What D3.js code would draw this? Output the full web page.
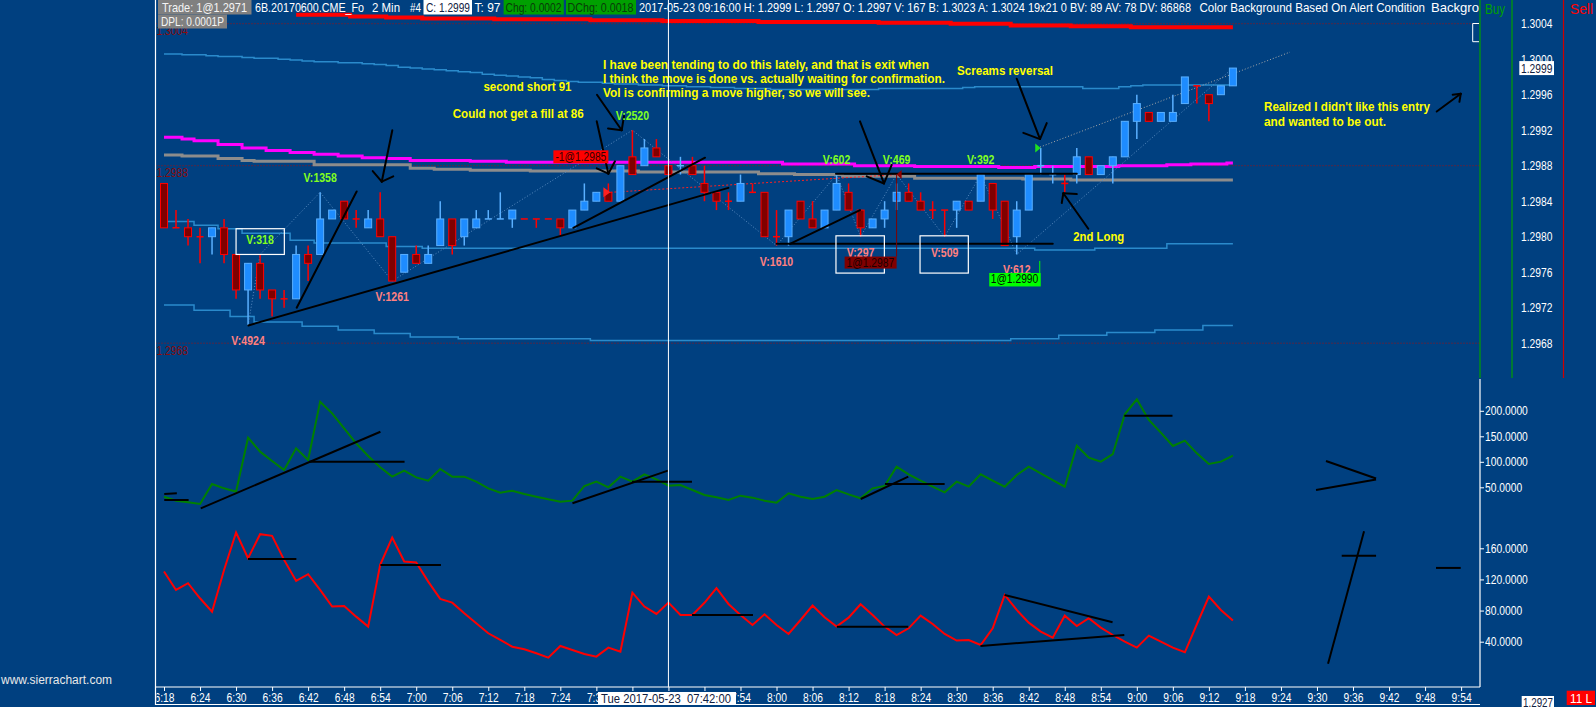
<!DOCTYPE html>
<html lang="en">
<head>
<meta charset="UTF-8">
<title>6B.20170600.CME_Fo 2 Min</title>
<style>
  html, body { margin: 0; padding: 0; background: #004080; overflow: hidden; }
  svg { display: block; font-family: "Liberation Sans Narrow", "Liberation Sans", Arial, sans-serif; }
</style>
</head>
<body>
<svg id="chart" width="1596" height="707"></svg>
<script src="https://cdn.jsdelivr.net/npm/d3@7/dist/d3.min.js"></script>
<script>
// 2 minute bars, 6:18 .. 9:16
const opens = [
  1.2986,1.2981,1.2981,1.2980,1.2980,1.2981,1.2978,1.2974,1.2977,1.2974,
  1.2973,1.2973,1.2978,1.2978,1.2982,1.2984,1.2982,1.2981,1.2982,1.2980,
  1.2976,1.2978,1.2977,1.2979,1.2982,1.2980,1.2981,1.2982,1.2982,1.2982,
  1.2982,1.2982,1.2982,1.2982,1.2981,1.2983,1.2984,1.2985,1.2984,1.2989,
  1.2988,1.2990,1.2988,1.2988,1.2988,1.2986,1.2985,1.2984,1.2984,1.2985,
  1.2985,1.2980,1.2980,1.2984,1.2982,1.2981,1.2983,1.2985,1.2983,1.2981,
  1.2982,1.2984,1.2985,1.2984,1.2983,1.2983,1.2983,1.2984,1.2984,1.2986,
  1.2984,1.2980,1.2983,1.2988,1.2987,1.2986,1.2987,1.2989,1.2987,1.2988,
  1.2989,1.2993,1.2994,1.2993,1.2993,1.2995,1.2997,1.2996,1.2996,1.2997
];
const highs = [
  1.2986,1.2983,1.2982,1.2981,1.2981,1.2982,1.2978,1.2977,1.2978,1.2974,
  1.2974,1.2979,1.2979,1.2985,1.2983,1.2984,1.2983,1.2983,1.2985,1.2980,
  1.2978,1.2979,1.2979,1.2984,1.2982,1.2982,1.2983,1.2983,1.2985,1.2983,
  1.2982,1.2982,1.2982,1.2982,1.2983,1.2986,1.2985,1.2986,1.2988,1.2992,
  1.2991,1.2991,1.2988,1.2989,1.2989,1.2988,1.2985,1.2985,1.2987,1.2986,
  1.2985,1.2983,1.2983,1.2984,1.2984,1.2983,1.2987,1.2986,1.2983,1.2982,
  1.2984,1.2986,1.2986,1.2985,1.2984,1.2983,1.2984,1.2984,1.2987,1.2986,
  1.2984,1.2984,1.2987,1.2990,1.2988,1.2987,1.2990,1.2989,1.2988,1.2989,
  1.2993,1.2996,1.2994,1.2994,1.2996,1.2998,1.2997,1.2996,1.2997,1.2999
];
const lows = [
  1.2981,1.2981,1.2979,1.2977,1.2978,1.2977,1.2973,1.2970,1.2973,1.2971,
  1.2972,1.2973,1.2975,1.2978,1.2982,1.2982,1.2981,1.2981,1.2980,1.2975,
  1.2976,1.2977,1.2977,1.2979,1.2978,1.2979,1.2981,1.2982,1.2982,1.2981,
  1.2982,1.2981,1.2982,1.2980,1.2981,1.2983,1.2984,1.2984,1.2984,1.2987,
  1.2988,1.2989,1.2987,1.2987,1.2987,1.2984,1.2983,1.2983,1.2984,1.2985,
  1.2980,1.2979,1.2979,1.2982,1.2981,1.2981,1.2983,1.2983,1.2980,1.2981,
  1.2981,1.2983,1.2984,1.2983,1.2982,1.2980,1.2981,1.2983,1.2984,1.2982,
  1.2979,1.2978,1.2983,1.2987,1.2986,1.2985,1.2986,1.2987,1.2987,1.2986,
  1.2989,1.2991,1.2993,1.2993,1.2993,1.2995,1.2995,1.2993,1.2996,1.2997
];
const closes = [
  1.2981,1.2981,1.2980,1.2980,1.2981,1.2978,1.2974,1.2977,1.2974,1.2973,
  1.2973,1.2978,1.2977,1.2982,1.2983,1.2982,1.2982,1.2982,1.2980,1.2975,
  1.2978,1.2977,1.2978,1.2982,1.2979,1.2982,1.2982,1.2982,1.2982,1.2983,
  1.2982,1.2982,1.2982,1.2981,1.2983,1.2984,1.2985,1.2984,1.2988,1.2987,
  1.2990,1.2989,1.2987,1.2988,1.2987,1.2985,1.2984,1.2984,1.2986,1.2985,
  1.2980,1.2980,1.2983,1.2982,1.2981,1.2983,1.2986,1.2983,1.2981,1.2982,
  1.2983,1.2985,1.2984,1.2983,1.2983,1.2983,1.2984,1.2983,1.2987,1.2983,
  1.2979,1.2983,1.2987,1.2988,1.2987,1.2986,1.2989,1.2987,1.2988,1.2989,
  1.2993,1.2995,1.2993,1.2994,1.2994,1.2998,1.2997,1.2995,1.2997,1.2999
];
// doji bars drawn in the up colour
const upDojis = [27, 28, 43, 73, 74];

const upperBand = [
  1.30006,1.30006,1.30005,1.30005,1.30004,1.30003,1.30003,1.30002,1.30001,1.30001,
  1.30000,1.29999,1.29998,1.29997,1.29997,1.29996,1.29996,1.29995,1.29994,1.29993,
  1.29991,1.29990,1.29989,1.29988,1.29987,1.29986,1.29985,1.29983,1.29982,1.29981,
  1.29980,1.29979,1.29977,1.29976,1.29975,1.29974,1.29974,1.29973,1.29972,1.29972,
  1.29971,1.29971,1.29970,1.29970,1.29969,1.29969,1.29968,1.29968,1.29967,1.29967,
  1.29967,1.29966,1.29966,1.29966,1.29966,1.29966,1.29966,1.29966,1.29966,1.29966,
  1.29967,1.29967,1.29967,1.29967,1.29967,1.29967,1.29967,1.29968,1.29969,1.29969,
  1.29969,1.29969,1.29969,1.29969,1.29969,1.29969,1.29969,1.29967,1.29967,1.29967,
  1.29969,1.29970,1.29971,1.29971,1.29971,1.29971,1.29971,1.29971,1.29971,1.29971
];
const midBand = [
  1.29817,1.29817,1.29817,1.29813,1.29813,1.29809,1.29809,1.29804,1.29804,1.29804,
  1.29804,1.29796,1.29796,1.29793,1.29793,1.29793,1.29793,1.29793,1.29793,1.29789,
  1.29789,1.29789,1.29787,1.29787,1.29787,1.29787,1.29787,1.29787,1.29787,1.29787,
  1.29787,1.29787,1.29787,1.29787,1.29787,1.29787,1.29787,1.29787,1.29787,1.29787,
  1.29787,1.29787,1.29787,1.29787,1.29787,1.29787,1.29787,1.29787,1.29787,1.29787,
  1.29787,1.29787,1.29787,1.29787,1.29787,1.29787,1.29787,1.29787,1.29787,1.29787,
  1.29787,1.29787,1.29787,1.29787,1.29787,1.29787,1.29787,1.29787,1.29787,1.29787,
  1.29787,1.29787,1.29787,1.29785,1.29785,1.29785,1.29785,1.29785,1.29787,1.29787,
  1.29787,1.29787,1.29787,1.29787,1.29792,1.29792,1.29792,1.29792,1.29792,1.29792
];
const lowerBand = [
  1.29723,1.29723,1.29723,1.29717,1.29717,1.29717,1.29710,1.29710,1.29704,1.29704,
  1.29704,1.29704,1.29699,1.29699,1.29699,1.29695,1.29695,1.29695,1.29691,1.29691,
  1.29691,1.29687,1.29687,1.29687,1.29687,1.29685,1.29685,1.29685,1.29685,1.29685,
  1.29685,1.29685,1.29685,1.29685,1.29685,1.29685,1.29683,1.29683,1.29683,1.29683,
  1.29683,1.29683,1.29683,1.29683,1.29683,1.29683,1.29683,1.29683,1.29683,1.29683,
  1.29683,1.29683,1.29683,1.29683,1.29683,1.29683,1.29683,1.29683,1.29683,1.29683,
  1.29683,1.29683,1.29683,1.29683,1.29683,1.29683,1.29683,1.29683,1.29683,1.29683,
  1.29683,1.29685,1.29685,1.29685,1.29685,1.29689,1.29689,1.29689,1.29689,1.29692,
  1.29692,1.29692,1.29692,1.29695,1.29695,1.29695,1.29695,1.29700,1.29700,1.29700
];
const magentaLine = [
  1.29912,1.29912,1.29910,1.29908,1.29908,1.29904,1.29904,1.29900,1.29900,1.29897,
  1.29897,1.29895,1.29895,1.29893,1.29893,1.29891,1.29891,1.29889,1.29889,1.29888,
  1.29888,1.29886,1.29886,1.29886,1.29886,1.29886,1.29885,1.29885,1.29885,1.29884,
  1.29884,1.29884,1.29884,1.29884,1.29884,1.29884,1.29884,1.29884,1.29884,1.29884,
  1.29884,1.29884,1.29884,1.29884,1.29884,1.29884,1.29884,1.29884,1.29884,1.29884,
  1.29884,1.29884,1.29882,1.29882,1.29882,1.29882,1.29882,1.29882,1.29880,1.29880,
  1.29880,1.29880,1.29880,1.29879,1.29879,1.29879,1.29879,1.29879,1.29879,1.29879,
  1.29878,1.29878,1.29878,1.29879,1.29879,1.29879,1.29879,1.29879,1.29879,1.29879,
  1.29880,1.29880,1.29880,1.29880,1.29881,1.29881,1.29882,1.29882,1.29882,1.29883
];
const grayLine = [
  1.29892,1.29892,1.29891,1.29891,1.29891,1.29888,1.29888,1.29886,1.29885,1.29885,
  1.29885,1.29885,1.29885,1.29881,1.29881,1.29881,1.29881,1.29881,1.29881,1.29881,
  1.29881,1.29877,1.29877,1.29876,1.29876,1.29876,1.29875,1.29875,1.29875,1.29875,
  1.29875,1.29874,1.29874,1.29874,1.29874,1.29874,1.29874,1.29874,1.29874,1.29874,
  1.29873,1.29873,1.29873,1.29873,1.29873,1.29873,1.29873,1.29873,1.29873,1.29873,
  1.29871,1.29871,1.29871,1.29870,1.29870,1.29870,1.29870,1.29868,1.29868,1.29868,
  1.29868,1.29868,1.29868,1.29866,1.29866,1.29866,1.29866,1.29866,1.29866,1.29866,
  1.29866,1.29866,1.29865,1.29865,1.29865,1.29865,1.29864,1.29864,1.29864,1.29864,
  1.29864,1.29864,1.29864,1.29864,1.29864,1.29864,1.29864,1.29864,1.29864,1.29864
];
const redTopLine = [
  null,null,null,null,null,null,null,null,null,null,
  null,1.30050,1.30050,1.30050,1.30050,1.30050,1.30048,1.30048,1.30048,1.30047,
  1.30047,1.30047,1.30046,1.30046,1.30046,1.30046,1.30046,1.30046,1.30045,1.30045,
  1.30045,1.30045,1.30045,1.30045,1.30045,1.30045,1.30044,1.30044,1.30044,1.30044,
  1.30044,1.30044,1.30043,1.30043,1.30043,1.30043,1.30043,1.30043,1.30043,1.30043,
  1.30042,1.30042,1.30042,1.30042,1.30042,1.30042,1.30042,1.30042,1.30042,1.30042,
  1.30041,1.30041,1.30041,1.30041,1.30041,1.30041,1.30040,1.30040,1.30040,1.30040,
  1.30040,1.30038,1.30038,1.30038,1.30038,1.30038,1.30037,1.30037,1.30037,1.30037,
  1.30037,1.30036,1.30036,1.30036,1.30036,1.30036,1.30036,1.30036,1.30036,1.30036
];

// lower study panels
const greenStudy = [
  31.6,23.8,20.5,17.3,56.5,48.0,41.4,147.3,119.9,101.6,
  83.9,126.4,103.5,217.9,195.0,165.6,136.2,111.4,89.2,70.9,
  82.6,69.5,63.0,85.9,70.9,70.9,61.1,48.0,39.5,43.4,
  36.9,31.6,26.4,21.8,23.8,52.6,61.1,50.0,70.9,61.1,
  75.4,65.6,53.2,54.5,44.7,34.9,30.3,25.1,33.6,29.7,
  23.8,19.9,38.2,31.6,27.1,31.6,44.7,36.2,28.4,48.0,
  52.6,90.5,75.4,63.0,51.2,40.1,61.1,51.2,75.4,63.0,
  51.2,74.1,90.5,77.4,64.3,51.2,131.6,108.1,100.3,115.3,
  193.1,222.5,182.0,157.1,131.0,141.4,116.6,95.7,100.3,112.0
];
const redStudy = [
  130.1,106.5,115.1,95.8,78.6,132.2,180.3,147.2,178.1,176.0,
  145.1,118.1,126.7,106.5,85.1,85.9,72.2,59.4,138.7,173.8,
  143.0,141.7,117.2,95.0,90.2,76.5,63.7,50.8,42.2,33.6,
  30.2,25.1,19.5,34.5,29.3,24.2,20.8,32.4,27.2,103.1,
  85.1,75.7,90.2,74.4,74.4,90.0,108.7,88.5,74.4,61.5,
  75.2,61.5,49.9,67.9,86.4,71.4,59.4,70.9,88.1,74.4,
  59.4,48.6,57.2,73.5,62.8,49.9,41.4,42.2,35.8,57.2,
  100.1,80.8,64.5,53.0,45.2,73.5,60.2,70.1,58.1,48.6,
  40.1,32.4,47.8,40.1,32.4,26.4,62.4,97.9,80.8,67.1
];

// axes
const priceTicks = [1.2968, 1.2972, 1.2976, 1.2980, 1.2984, 1.2988, 1.2992, 1.2996, 1.3000, 1.3004];
const greenTicks = [50, 100, 150, 200];
const redTicks = [40, 80, 120, 160];
const timeLabels = ["6:18","6:24","6:30","6:36","6:42","6:48","6:54","7:00","7:06","7:12","7:18","7:24",
  "7:30","7:36","7:42","7:48","7:54","8:00","8:06","8:12","8:18","8:24","8:30","8:36","8:42","8:48",
  "8:54","9:00","9:06","9:12","9:18","9:24","9:30","9:36","9:42","9:48","9:54"];
const levelLines = [1.3004, 1.2988, 1.2968];

// zigzag swings with volume labels
const swingBars   = [7, 8, 13, 19, 39, 51, 56, 58, 61, 65, 68, 71, 89];
const swingPrices = [1.2970, 1.2978, 1.2985, 1.2975, 1.2992, 1.2979, 1.2987, 1.2980, 1.2987, 1.2980, 1.2987, 1.2978, 1.2999];
const swingVols   = [4924, 318, 1358, 1261, 2520, 1610, 602, 297, 469, 509, 392, 612, null];
const swingIsHigh = [false, true, true, false, true, false, true, false, true, false, true, false, true];

// trades
const tradeBars   = [37, 61, 73];
const tradePrices = [1.2985, 1.2987, 1.2990];
const tradeTexts  = ["-1@1.2985", "1@1.2987", "1@1.2990"];

// hand drawn lines: [bar, price, bar, price]
const priceDrawings = [
  [7.02, 1.29700, 46.99, 1.29855],
  [11.05, 1.29720, 16.04, 1.29851],
  [19.01, 1.29920, 18.13, 1.29862], [17.38, 1.29874, 18.13, 1.29862], [19.09, 1.29868, 18.13, 1.29862],
  [34.08, 1.29810, 45.05, 1.29889],
  [36.03, 1.29930, 37.00, 1.29871], [36.03, 1.29877, 37.00, 1.29871], [37.55, 1.29885, 37.00, 1.29871],
  [36.05, 1.29960, 38.11, 1.29920], [36.97, 1.29922, 38.11, 1.29920], [38.30, 1.29936, 38.11, 1.29920],
  [71.00, 1.29978, 72.94, 1.29910], [71.55, 1.29917, 72.94, 1.29910], [73.50, 1.29928, 72.94, 1.29910],
  [76.96, 1.29809, 74.88, 1.29849], [74.75, 1.29838, 74.88, 1.29849], [76.00, 1.29848, 74.88, 1.29849],
  [57.95, 1.29930, 59.95, 1.29860], [58.51, 1.29868, 59.95, 1.29860], [60.59, 1.29881, 59.95, 1.29860],
  [52.12, 1.29792, 57.95, 1.29830],
  [51.02, 1.29792, 74.00, 1.29792],
  [55.95, 1.29871, 76.00, 1.29871],
  [105.97, 1.29941, 107.97, 1.29961], [107.30, 1.29960, 107.97, 1.29961], [107.86, 1.29952, 107.97, 1.29961]
];
const greenDrawings = [
  [0.02, 36.9, 1.07, 38.2], [0.02, 25.1, 2.05, 25.1],
  [3.06, 8.8, 18.02, 159.0], [12.07, 100.2, 20.03, 100.2],
  [34.01, 18.6, 41.96, 82.6], [38.97, 61.0, 43.96, 61.0],
  [58.01, 27.1, 61.97, 70.8], [60.03, 56.5, 65.00, 56.5],
  [79.96, 190.4, 83.97, 190.4],
  [96.75, 101.6, 100.92, 67.3], [95.92, 44.7, 100.92, 65.3]
];
const redDrawings = [
  [6.99, 146.4, 11.02, 146.4], [18.02, 138.7, 23.06, 138.7],
  [43.96, 74.3, 49.04, 74.3], [56.02, 59.3, 61.97, 59.3],
  [69.99, 100.1, 78.98, 65.0], [67.98, 34.5, 79.96, 48.6],
  [96.92, 11.7, 99.92, 181.9], [98.06, 150.5, 100.92, 150.5],
  [105.91, 134.8, 107.97, 134.8]
];
// white boxes: [bar, price, bar, price]
const boxes = [
  [6.00, 1.29809, 10.02, 1.29780],
  [55.95, 1.29801, 59.98, 1.29759],
  [62.95, 1.29801, 66.97, 1.29759]
];
// yellow notes: [text, bar, price]
const notes = [
  ["second short 91", 26.6, 1.29964],
  ["Could not get a fill at 86", 24.04, 1.29934],
  ["I have been tending to do this lately, and that is exit when", 36.55, 1.29989],
  ["I think the move is done vs. actually waiting for confirmation.", 36.55, 1.29973],
  ["Vol is confirming a move higher, so we will see.", 36.55, 1.29957],
  ["Screams reversal", 66.03, 1.29982],
  ["2nd Long", 75.71, 1.29795],
  ["Realized I didn't like this entry", 91.59, 1.29942],
  ["and wanted to be out.", 91.59, 1.29925]
];
const noteWidths = [88, 131, 326, 342, 267, 96, 51, 166, 122];

// ---------------------------------------------------------------
const svg = d3.select("#chart");
const BG = "#004080";
svg.append("rect").attr("width", 1596).attr("height", 707).attr("fill", BG);

const L = 155.5, R = 1480;
const x = d3.scaleLinear().domain([0, 108]).range([164, 1461.1]);
const yP = d3.scaleLinear().domain([1.2968, 1.3004]).range([343.2, 23.7]);
const yG = d3.scaleLinear().domain([50, 200]).range([487.3, 410.8]);
const yR = d3.scaleLinear().domain([40, 160]).range([641.7, 548.3]);

const defs = svg.append("defs");
defs.append("clipPath").attr("id", "clipP").append("rect")
  .attr("x", L).attr("y", 0).attr("width", R - L).attr("height", 378);
defs.append("clipPath").attr("id", "clipL").append("rect")
  .attr("x", L).attr("y", 380).attr("width", R - L).attr("height", 307);
defs.append("clipPath").attr("id", "clipT").append("rect")
  .attr("x", L + 1).attr("y", 686).attr("width", R - L).attr("height", 21);
defs.append("clipPath").attr("id", "clipH").append("rect")
  .attr("x", L).attr("y", 0).attr("width", R - L).attr("height", 32);

const bars = d3.range(opens.length).map(i => ({i, o: opens[i], h: highs[i], l: lows[i], c: closes[i]}));
const isUp = d => d.c > d.o || (d.c === d.o && upDojis.includes(d.i));

// ---------- price panel ----------
const gp = svg.append("g").attr("clip-path", "url(#clipP)");

gp.selectAll(".lvl").data(levelLines).join("line")
  .attr("x1", L).attr("x2", R).attr("y1", d => yP(d)).attr("y2", d => yP(d))
  .attr("stroke", "#a01010").attr("stroke-width", 1).attr("stroke-dasharray", "1,2");
gp.selectAll(".lvlTxt").data(levelLines).join("text")
  .attr("x", L + 1).attr("y", d => yP(d) + 11.5)
  .attr("fill", "#8a0c0c").attr("font-size", 12.5)
  .text(d => d.toFixed(4));

const stepLine = (arr, color, w) => gp.append("path")
  .datum(arr.map((v, i) => [i, v]))
  .attr("fill", "none").attr("stroke", color).attr("stroke-width", w)
  .attr("d", d3.line().defined(d => d[1] != null).curve(d3.curveStep)
    .x(d => x(d[0])).y(d => yP(d[1])));

stepLine(redTopLine, "#ff0000", 4);
stepLine(upperBand, "#2a8acb", 1.5);
stepLine(midBand, "#2a8acb", 1.5);
stepLine(lowerBand, "#2a8acb", 1.5);
stepLine(grayLine, "#8c8c8c", 3);
stepLine(magentaLine, "#ff00ff", 3);

// zigzag
gp.append("path")
  .datum(swingBars.map((b, k) => [b, swingPrices[k]]))
  .attr("fill", "none").attr("stroke", "#5a8cc0").attr("stroke-width", 1)
  .attr("stroke-dasharray", "1,2")
  .attr("d", d3.line().x(d => x(d[0])).y(d => yP(d[1])));

// trade connection lines
gp.append("line")
  .attr("x1", x(tradeBars[0]) + 2).attr("y1", yP(tradePrices[0]))
  .attr("x2", x(tradeBars[1])).attr("y2", yP(tradePrices[1]))
  .attr("stroke", "#ff2020").attr("stroke-width", 1).attr("stroke-dasharray", "2,2");
gp.append("line")
  .attr("x1", x(72.94)).attr("y1", yP(1.29901))
  .attr("x2", x(93.75)).attr("y2", yP(1.30008))
  .attr("stroke", "#a8a8a8").attr("stroke-width", 1).attr("stroke-dasharray", "1,2");

// candles
const bw = 7;
const cg = gp.append("g");
cg.selectAll(".wick").data(bars).join("line")
  .attr("x1", d => x(d.i)).attr("x2", d => x(d.i))
  .attr("y1", d => yP(d.h)).attr("y2", d => yP(d.l))
  .attr("stroke", d => isUp(d) ? "#5ab0ff" : "#ff0000").attr("stroke-width", 1.5);
cg.selectAll(".body").data(bars.filter(d => d.o !== d.c)).join("rect")
  .attr("x", d => x(d.i) - bw / 2).attr("y", d => yP(Math.max(d.o, d.c)))
  .attr("width", bw).attr("height", d => Math.abs(yP(d.o) - yP(d.c)))
  .attr("fill", d => isUp(d) ? "#1e8cff" : "#800000")
  .attr("stroke", d => isUp(d) ? "#5ab0ff" : "#ff0000").attr("stroke-width", 1);
cg.selectAll(".doji").data(bars.filter(d => d.o === d.c)).join("line")
  .attr("x1", d => x(d.i) - bw / 2).attr("x2", d => x(d.i) + bw / 2)
  .attr("y1", d => yP(d.c)).attr("y2", d => yP(d.c))
  .attr("stroke", d => isUp(d) ? "#5ab0ff" : "#ff0000").attr("stroke-width", 1.5);

// drawings
gp.selectAll(".drw").data(priceDrawings).join("line")
  .attr("x1", d => x(d[0])).attr("y1", d => yP(d[1]))
  .attr("x2", d => x(d[2])).attr("y2", d => yP(d[3]))
  .attr("stroke", "#000").attr("stroke-width", 2).attr("stroke-linecap", "round");

gp.selectAll(".box").data(boxes).join("rect")
  .attr("x", d => x(d[0])).attr("y", d => yP(d[1]))
  .attr("width", d => x(d[2]) - x(d[0])).attr("height", d => yP(d[3]) - yP(d[1]))
  .attr("fill", "none").attr("stroke", "#fff").attr("stroke-width", 1.2);

// swing volume labels
const swings = swingBars.map((b, k) => ({b, p: swingPrices[k], v: swingVols[k], hi: swingIsHigh[k]}))
  .filter(d => d.v != null);
gp.selectAll(".vol").data(swings).join("text")
  .attr("x", d => x(d.b)).attr("y", d => d.hi ? yP(d.p) - 10.5 : yP(d.p) + 20)
  .attr("text-anchor", "middle").attr("font-weight", "bold").attr("font-size", 12.5)
  .attr("fill", d => d.hi ? "#80ff20" : "#ff8080")
  .text(d => "V:" + d.v);

// trades
const t0x = x(tradeBars[0]), t0y = yP(tradePrices[0]);
gp.append("path").attr("d", `M${t0x - 5},${t0y - 5}L${t0x + 2},${t0y}L${t0x - 5},${t0y + 5}Z`).attr("fill", "#ff2020");
gp.append("rect").attr("x", t0x - 55).attr("y", t0y - 42).attr("width", 55).attr("height", 13).attr("fill", "#ff0000");
gp.append("text").attr("x", t0x - 53).attr("y", t0y - 31.5).attr("font-size", 12.5).attr("fill", "#300000").text(tradeTexts[0]);

const t1x = x(tradeBars[1]), t1y = yP(tradePrices[1]);
gp.append("line").attr("x1", t1x).attr("x2", t1x).attr("y1", t1y).attr("y2", t1y + 82).attr("stroke", "#800000").attr("stroke-width", 1);
gp.append("path").attr("d", `M${t1x},${t1y}L${t1x + 5},${t1y - 4.5}L${t1x + 5},${t1y + 4.5}Z`).attr("fill", "#900000");
gp.append("rect").attr("x", t1x - 52).attr("y", t1y + 82).attr("width", 52).attr("height", 12).attr("fill", "#800000");
gp.append("text").attr("x", t1x - 50).attr("y", t1y + 92.5).attr("font-size", 12.5).attr("fill", "#1a0000").text(tradeTexts[1]);

const t2x = x(tradeBars[2]), t2y = yP(tradePrices[2]);
gp.append("path").attr("d", `M${t2x - 5.5},${t2y - 4.5}L${t2x},${t2y}L${t2x - 5.5},${t2y + 4.5}Z`).attr("fill", "#20e020");
gp.append("line").attr("x1", t2x - 1).attr("x2", t2x - 1).attr("y1", t2y + 113).attr("y2", t2y + 125).attr("stroke", "#00ff00").attr("stroke-width", 1);
gp.append("rect").attr("x", t2x - 51.5).attr("y", t2y + 125).attr("width", 51.5).attr("height", 13.5).attr("fill", "#00ff00");
gp.append("text").attr("x", t2x - 50).attr("y", t2y + 135.5).attr("font-size", 12.5).attr("fill", "#001000").text(tradeTexts[2]);

// notes
gp.selectAll(".note").data(notes).join("text")
  .attr("x", d => x(d[1])).attr("y", d => yP(d[2]))
  .attr("fill", "#ffff00").attr("font-weight", "bold").attr("font-size", 12.5)
  .attr("textLength", (d, i) => noteWidths[i]).attr("lengthAdjust", "spacingAndGlyphs")
  .text(d => d[0]);

// ---------- lower panel ----------
const gl = svg.append("g").attr("clip-path", "url(#clipL)");
gl.append("path").datum(greenStudy)
  .attr("fill", "none").attr("stroke", "#008000").attr("stroke-width", 2)
  .attr("d", d3.line().x((d, i) => x(i)).y(d => yG(d)));
gl.append("path").datum(redStudy)
  .attr("fill", "none").attr("stroke", "#ff0000").attr("stroke-width", 2)
  .attr("d", d3.line().x((d, i) => x(i)).y(d => yR(d)));
gl.selectAll(".gd").data(greenDrawings).join("line")
  .attr("x1", d => x(d[0])).attr("y1", d => yG(d[1])).attr("x2", d => x(d[2])).attr("y2", d => yG(d[3]))
  .attr("stroke", "#000").attr("stroke-width", 2);
gl.selectAll(".rd").data(redDrawings).join("line")
  .attr("x1", d => x(d[0])).attr("y1", d => yR(d[1])).attr("x2", d => x(d[2])).attr("y2", d => yR(d[3]))
  .attr("stroke", "#000").attr("stroke-width", 2);

const styleAxis = g => {
  g.attr("font-family", null).attr("font-size", null);
  g.select(".domain").remove();
  g.selectAll("line").attr("stroke", "#fff");
  g.selectAll("text").attr("fill", "#fff").attr("font-size", 12.5);
};
svg.append("g").attr("transform", `translate(${R},0)`)
  .call(d3.axisRight(yG).tickValues(greenTicks).tickFormat(d3.format(".4f")).tickSize(4).tickPadding(1))
  .call(styleAxis);
svg.append("g").attr("transform", `translate(${R},0)`)
  .call(d3.axisRight(yR).tickValues(redTicks).tickFormat(d3.format(".4f")).tickSize(4).tickPadding(1))
  .call(styleAxis);

// frame lines
const frame = svg.append("g").attr("stroke", "#fff").attr("stroke-width", 1.2);
frame.append("line").attr("x1", L).attr("x2", L).attr("y1", 0).attr("y2", 705);
frame.append("line").attr("x1", R).attr("x2", R).attr("y1", 379).attr("y2", 687);
frame.append("line").attr("x1", L).attr("x2", R).attr("y1", 687).attr("y2", 687);
frame.append("line").attr("x1", L).attr("x2", R).attr("y1", 704.5).attr("y2", 704.5);
// cursor
svg.append("line").attr("x1", x(42)).attr("x2", x(42)).attr("y1", 0).attr("y2", 687)
  .attr("stroke", "#fff").attr("stroke-width", 1);

// time axis; labels fully under the cursor box are not drawn
const curBox = [598, 736];
svg.append("g").attr("clip-path", "url(#clipT)")
  .append("g").attr("transform", "translate(0,687)")
  .call(d3.axisBottom(x).tickValues(d3.range(0, 109, 3)).tickFormat(i => timeLabels[i / 3]).tickSize(4).tickPadding(2))
  .call(styleAxis)
  .call(g => g.selectAll(".tick").filter(d => x(d) - 10 > curBox[0] && x(d) + 10 < curBox[1]).select("text").remove());
svg.append("rect").attr("x", curBox[0]).attr("y", 692).attr("width", curBox[1] - curBox[0]).attr("height", 12.5).attr("fill", "#fff");
svg.append("text").attr("x", 601).attr("y", 702.5).attr("font-size", 12.5).attr("fill", "#102040")
  .attr("textLength", 130).attr("lengthAdjust", "spacingAndGlyphs")
  .text("Tue 2017-05-23\u00a0 07:42:00");

// ---------- price scale column ----------
const ps = svg.append("g");
ps.append("line").attr("x1", R).attr("x2", R).attr("y1", 0).attr("y2", 378).attr("stroke", "#00a000").attr("stroke-width", 1.2);
ps.append("line").attr("x1", 1512).attr("x2", 1512).attr("y1", 0).attr("y2", 378).attr("stroke", "#00a000").attr("stroke-width", 1.2);
ps.append("line").attr("x1", 1563.5).attr("x2", 1563.5).attr("y1", 0).attr("y2", 378).attr("stroke", "#d00000").attr("stroke-width", 1.2);
ps.append("text").attr("x", 1485).attr("y", 14).attr("fill", "#00a000").attr("font-size", 14)
  .attr("textLength", 20).attr("lengthAdjust", "spacingAndGlyphs").text("Buy");
ps.append("text").attr("x", 1570).attr("y", 14).attr("fill", "#ff0000").attr("font-size", 14)
  .attr("textLength", 23).attr("lengthAdjust", "spacingAndGlyphs").text("Sell");
ps.append("g").attr("transform", "translate(1521,0)")
  .call(d3.axisRight(yP).tickValues(priceTicks).tickFormat(d3.format(".4f")).tickSize(0).tickPadding(0))
  .call(styleAxis);
const last = closes[closes.length - 1];
ps.append("rect").attr("x", 1519.3).attr("y", yP(last) - 7).attr("width", 34.7).attr("height", 14).attr("fill", "#fff");
ps.append("text").attr("x", 1521).attr("y", yP(last) + 4.5).attr("font-size", 12.5).attr("fill", "#102040").text(last.toFixed(4));

// white bracket at top right
svg.append("path").attr("d", "M1479,23.5H1472.7V41.7H1479").attr("fill", "none")
  .attr("stroke", "#fff").attr("stroke-width", 1);

// bottom right
svg.append("rect").attr("x", 1521.7).attr("y", 696).attr("width", 32.3).attr("height", 11).attr("fill", "#fff");
svg.append("text").attr("x", 1523).attr("y", 706.5).attr("font-size", 12.5).attr("fill", "#102040")
  .attr("textLength", 30).attr("lengthAdjust", "spacingAndGlyphs").text("1.2927");
svg.append("rect").attr("x", 1566.7).attr("y", 690.7).attr("width", 28.3).attr("height", 14.3).attr("fill", "#ff0000");
svg.append("text").attr("x", 1570).attr("y", 702.5).attr("font-size", 13).attr("fill", "#fff")
  .attr("textLength", 22).attr("lengthAdjust", "spacingAndGlyphs").text("11 L");

svg.append("text").attr("x", 1).attr("y", 684).attr("font-size", 12.5).attr("fill", "#e8e8e8")
  .attr("textLength", 111).attr("lengthAdjust", "spacingAndGlyphs").text("www.sierrachart.com");

// ---------- header ----------
const hd = svg.append("g").attr("clip-path", "url(#clipH)").attr("font-size", 13);
const hbox = (x0, y0, w, h, c) => hd.append("rect").attr("x", x0).attr("y", y0).attr("width", w).attr("height", h).attr("fill", c);
const htxt = (x0, y0, s, c, w) => {
  const t = hd.append("text").attr("x", x0).attr("y", y0).attr("fill", c).text(s);
  if (w) t.attr("textLength", w).attr("lengthAdjust", "spacingAndGlyphs");
  return t;
};
hbox(158, 0, 93.5, 14.5, "#808080");
htxt(162, 11.5, "Trade: 1@1.2971", "#f4f4f4", 85);
htxt(255, 11.5, "6B.20170600.CME_Fo", "#fff", 109);
htxt(372, 11.5, "2 Min", "#fff", 28);
htxt(410, 11.5, "#4", "#fff", 11);
hbox(423.5, 0, 48.5, 14.5, "#ffffff");
htxt(426, 11.5, "C: 1.2999", "#102040", 44);
htxt(474.5, 11.5, "T: 97", "#fff", 26);
hbox(503.6, 0, 60.2, 14.5, "#00a000");
htxt(505.5, 11.5, "Chg: 0.0002", "#0a3a0a", 56);
hbox(566, 0, 70, 14.5, "#00a000");
htxt(567.5, 11.5, "DChg: 0.0018", "#0a3a0a", 66);
htxt(639, 11.5, "2017-05-23 09:16:00 H: 1.2999 L: 1.2997 O: 1.2997 V: 167 B: 1.3023 A: 1.3024 19x21 0 BV: 89 AV: 78 DV: 86868", "#fff", 552);
htxt(1199.5, 11.5, "Color Background Based On Alert Condition", "#fff", 225.5);
htxt(1431, 11.5, "Backgro", "#fff", 48);
hbox(158, 14.5, 69, 14, "#808080");
htxt(161, 25.5, "DPL: 0.0001P", "#f4f4f4", 63);

// the chart font is a narrow face; squeeze the remaining texts if the fallback is wider
function measure(str, bold) {
  const t = svg.append("text").attr("font-size", 12.5).attr("font-weight", bold ? "bold" : null).text(str);
  const w = t.node().getComputedTextLength();
  t.remove();
  return w;
}
const kReg = Math.min(1, 31.4 / measure("1.3004"));
const kBold = Math.min(1, 33.4 / measure("V:1358", true));
svg.selectAll("text").each(function () {
  if (this.hasAttribute("textLength")) return;
  const k = this.getAttribute("font-weight") === "bold" ? kBold : kReg;
  this.setAttribute("textLength", this.getComputedTextLength() * k);
  this.setAttribute("lengthAdjust", "spacingAndGlyphs");
});
</script>
</body>
</html>
